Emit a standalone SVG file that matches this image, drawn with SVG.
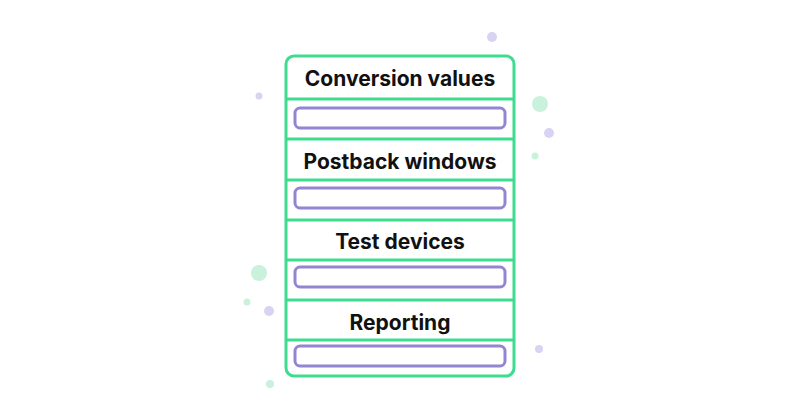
<svg xmlns="http://www.w3.org/2000/svg" width="800" height="420" viewBox="0 0 800 420">
<style>
.g{stroke:#3ddc8f;stroke-width:3;fill:none}
.bar{fill:#fff;stroke:#9485d2;stroke-width:3}
.t{font-family:Inter,"Liberation Sans",sans-serif;font-weight:700;font-size:21px;fill:#111;text-anchor:middle}
.pd{fill:#d9d3f3}.gd{fill:#c9f1dc}
</style>
<rect width="800" height="420" fill="#fff"/>
<g id="dots">
<circle class="pd" cx="492" cy="37" r="5"/><circle class="pd" cx="259" cy="96" r="3.5"/>
<circle class="gd" cx="540" cy="104" r="8"/><circle class="pd" cx="549" cy="133" r="5"/>
<circle class="gd" cx="535" cy="156" r="3.5"/><circle class="gd" cx="259" cy="273" r="8"/>
<circle class="gd" cx="247" cy="302" r="3.5"/><circle class="pd" cx="269" cy="311" r="5"/>
<circle class="pd" cx="539" cy="349" r="4"/><circle class="gd" cx="270" cy="384" r="4"/>
</g>
<g id="frame">
<rect class="g" x="286" y="56" width="228" height="320" rx="8" fill="#fff"/>
<path class="g" d="M286 99H514M286 139H514M286 180H514M286 220H514M286 260H514M286 300H514M286 340H514"/>
</g>
<g id="n1"><text class="t" x="400" y="86">Conversion values</text><rect class="bar" x="295" y="108" width="210" height="20" rx="5"/></g>
<g id="n2"><text class="t" x="400" y="169">Postback windows</text><rect class="bar" x="295" y="188" width="210" height="20" rx="5"/></g>
<g id="n3"><text class="t" x="400" y="249">Test devices</text><rect class="bar" x="295" y="267" width="210" height="20" rx="5"/></g>
<g id="n4"><text class="t" x="400" y="330">Reporting</text><rect class="bar" x="295" y="346" width="210" height="20" rx="5"/></g>
</svg>
